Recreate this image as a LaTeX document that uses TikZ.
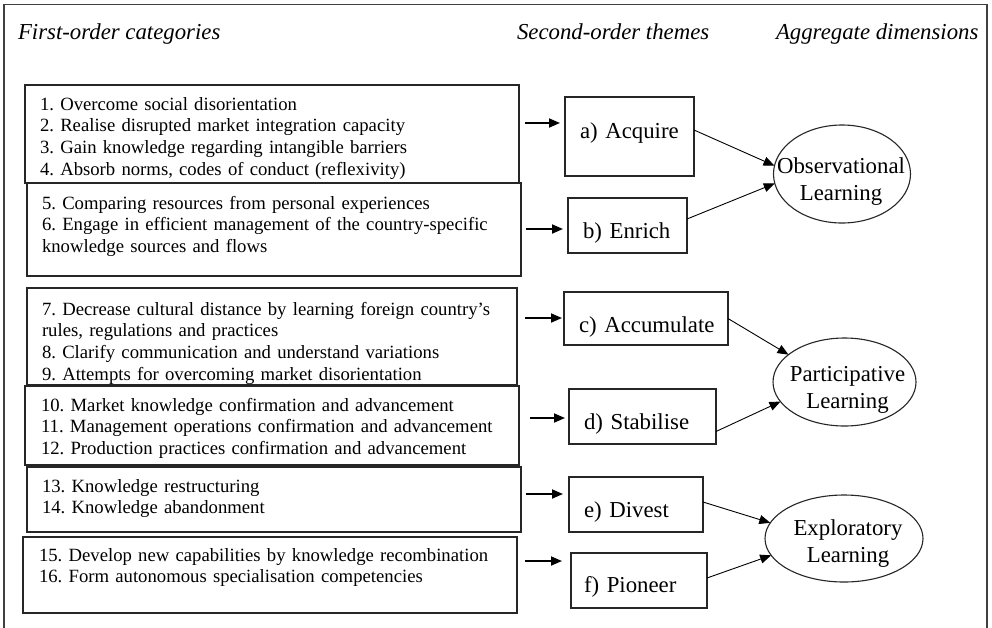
\documentclass[tikz,border=0pt]{standalone}
\usepackage{fontspec}
\setmainfont{Liberation Serif}
\usetikzlibrary{shapes.geometric,arrows.meta,calc}
\frenchspacing
\begin{document}
\begin{tikzpicture}[x=1pt,y=-1pt,
  every node/.style={inner sep=0pt, outer sep=0pt},
  frame/.style={line width=1.2pt, draw=black!75},
  fobox/.style={draw=black!85, line width=1.1pt, anchor=north west},
  fotext/.style={anchor=base west, text width=475pt, align=left, font=\fontsize{18.7}{21.8}\selectfont},
  head/.style={anchor=base west, font=\fontsize{22.8}{26}\selectfont\itshape},
  thbox/.style={draw=black!85, line width=1.1pt, anchor=north west, inner xsep=15pt, inner ysep=0pt, align=left, font=\fontsize{22.8}{26}\selectfont},
  dimell/.style={ellipse, draw=black!85, line width=1.1pt},
  dimtext/.style={anchor=base, text width=150pt, align=center, font=\fontsize{22.8}{27.5}\selectfont},
  sarr/.style={line width=1.8pt, -{Triangle[length=11pt,width=9pt]}},
  darr/.style={line width=0.9pt, -{Triangle[length=11pt,width=9pt]}},
]
\useasboundingbox (0,0) rectangle (992,627);
\fill[white] (0,0) rectangle (992,627);
% outer frame (bottom edge outside the picture)
\draw[frame] (4,640) -- (4,4.5) -- (987,4.5) -- (987,640);

% headers
\node[head] (h1) at (18,39.5) {First-order categories};
\node[head] (h2) at (517,39.5) {Second-order themes};
\node[head] (h3) at (776,39.5) {Aggregate dimensions};

% first-order boxes
\node[fobox, minimum width=494pt, minimum height=98pt] (f1) at (25,85) {};
\node[fotext] (t1) at (40,110) {1. Overcome social disorientation\\2. Realise disrupted market integration capacity\\3. Gain knowledge regarding intangible barriers\\4. Absorb norms, codes of conduct (reflexivity)};
\node[fobox, minimum width=494pt, minimum height=93pt] (f2) at (27,183) {};
\node[fotext] (t2) at (42,209) {5. Comparing resources from personal experiences\\6. Engage in efficient management of the country-specific\\knowledge sources and flows};
\node[fobox, minimum width=490pt, minimum height=97pt] (f3) at (27,288) {};
\node[fotext] (t3) at (42,315) {7. Decrease cultural distance by learning foreign country’s\\rules, regulations and practices\\8. Clarify communication and understand variations\\9. Attempts for overcoming market disorientation};
\node[fobox, minimum width=494pt, minimum height=79pt] (f4) at (25,386) {};
\node[fotext] (t4) at (41,411) {10. Market knowledge confirmation and advancement\\11. Management operations confirmation and advancement\\12. Production practices confirmation and advancement};
\node[fobox, minimum width=494pt, minimum height=65pt] (f5) at (27,467) {};
\node[fotext] (t5) at (42,492) {13. Knowledge restructuring\\14. Knowledge abandonment};
\node[fobox, minimum width=494pt, minimum height=76pt] (f6) at (23,537) {};
\node[fotext] (t6) at (39,561) {15. Develop new capabilities by knowledge recombination\\16. Form autonomous specialisation competencies};

% second-order themes
\node[thbox, text width=99pt, minimum height=79pt, text height=12pt, text depth=9pt] (ta) at (565,97) {a) Acquire};
\node[thbox, text width=89pt, minimum height=55pt, text height=25pt, text depth=0pt] (tb) at (568,198) {b) Enrich};
\node[thbox, text width=134pt, minimum height=53pt, text height=28pt, text depth=0pt] (tc) at (564,292) {\mbox{c) Accumulate}};
\node[thbox, text width=117pt, minimum height=55pt, text height=26pt, text depth=0pt] (td) at (569,389) {d) Stabilise};
\node[thbox, text width=104pt, minimum height=55pt, text height=26pt, text depth=0pt] (te) at (569,477) {e) Divest};
\node[thbox, inner xsep=13pt, text width=110pt, minimum height=55pt, text height=24pt, text depth=0pt] (tf) at (571,553) {f) Pioneer};

% aggregate dimensions
\node[dimell, minimum width=137pt, minimum height=98pt] (oe) at (842,174) {};
\node[dimtext] (ot) at (841,173) {Observational\\Learning};
\node[dimell, minimum width=143pt, minimum height=88pt] (pe) at (844.5,382) {};
\node[dimtext] (pt) at (847.5,381) {Participative\\Learning};
\node[dimell, minimum width=158pt, minimum height=87pt] (xe) at (844,538.5) {};
\node[dimtext] (xt) at (848,535) {Exploratory\\Learning};

% short arrows: first-order -> themes
\coordinate (s1) at (525,123);
\coordinate (s2) at (526,229);
\coordinate (s3) at (525,318);
\coordinate (s4) at (530,418);
\coordinate (s5) at (526,494);
\coordinate (s6) at (525,561);
\draw[sarr, shorten >=5pt] (s1) -- (s1 -| ta.west);
\draw[sarr, shorten >=5pt] (s2) -- (s2 -| tb.west);
\draw[sarr, shorten >=2pt] (s3) -- (s3 -| tc.west);
\draw[sarr, shorten >=4pt] (s4) -- (s4 -| td.west);
\draw[sarr, shorten >=6pt] (s5) -- (s5 -| te.west);
\draw[sarr, shorten >=9pt] (s6) -- (s6 -| tf.west);

% themes -> dimensions
\draw[darr] ([yshift=6.5pt]ta.east) -- (oe.173);
\draw[darr] ([yshift=6.5pt]tb.east) -- (oe.188);
\draw[darr] (tc.east) -- (pe.154);
\draw[darr] ([yshift=-15pt]td.east) -- (pe.197);
\draw[darr] ([yshift=2.5pt]te.east) -- (xe.168);
\draw[darr] ([yshift=2.5pt]tf.east) -- (xe.193);
\end{tikzpicture}
\end{document}
